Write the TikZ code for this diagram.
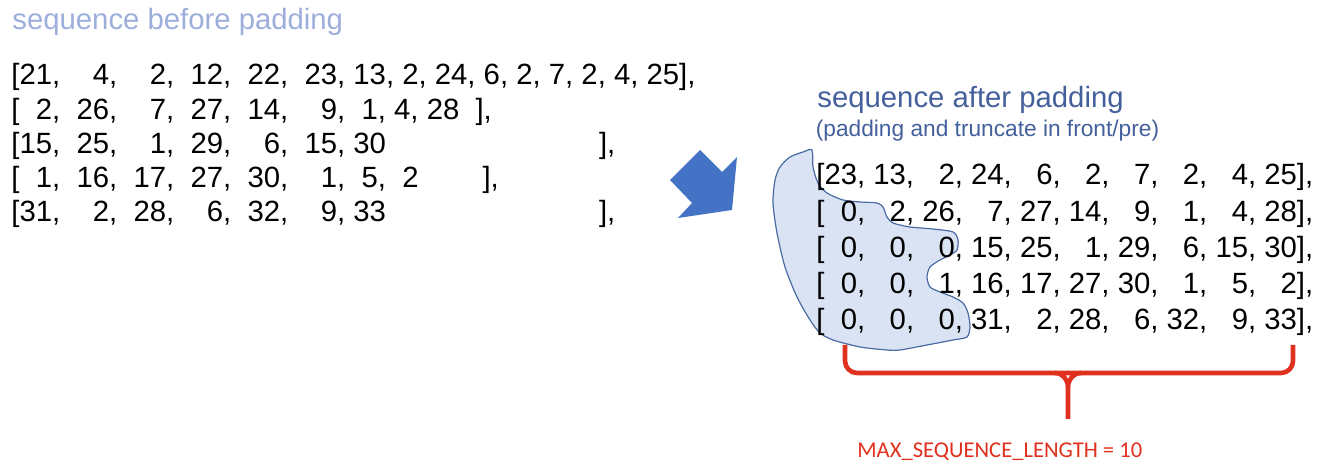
\documentclass[tikz,border=0pt]{standalone}
\usepackage{fontspec}
\setmainfont{Liberation Sans}
\newfontfamily\carlito{Carlito}
\definecolor{lightblue}{HTML}{9DAEDB}
\definecolor{darkblue}{HTML}{44609C}
\definecolor{arrowblue}{HTML}{4472C4}
\definecolor{blobfill}{HTML}{DAE3F3}
\definecolor{blobline}{HTML}{4A6AA3}
\definecolor{bracered}{HTML}{E0301E}
\newcommand{\pd}{\hphantom{0}}

\begin{document}
\begin{tikzpicture}[x=0.5pt, y=-0.5pt,
  txt/.style={anchor=base west, inner sep=0pt, font=\fontsize{14.65}{17}\selectfont},
  sub/.style={anchor=base west, inner sep=0pt, font=\fontsize{11.35}{13}\selectfont, text=darkblue},
  blob/.style={draw=blobline, fill=blobfill, line width=0.6pt},
  brc/.style={draw=bracered, line width=2.3pt},
  lbl/.style={anchor=base west, inner sep=0pt, font=\carlito\fontsize{11.3}{13}\selectfont, text=bracered}]
  \useasboundingbox (0,0) rectangle (1328,474);

  % before padding
  \node[txt, text=lightblue] (before) at (12,29.5) {sequence before padding};
  \foreach \seqtxt [count=\i] in {
    {[21,~~\pd4,~~\pd2,~~12,~~22,~~23, 13, 2, 24, 6, 2, 7, 2, 4, 25],},
    {[\pd2,~~26,~~\pd7,~~27,~~14,~~\pd9,~~1, 4, 28~~],},
    {[15,~~25,~~\pd1,~~29,~~\pd6,~~15, 30\hspace{106.5pt}],},
    {[\pd1,~~16,~~17,~~27,~~30,~~\pd1,~~5,~~2\hspace{32pt}],},
    {[31,~~\pd2,~~28,~~\pd6,~~32,~~\pd9, 33\hspace{106.5pt}],}}
    \node[txt] (b\i) at (11,{85+34.2*(\i-1)}) {\seqtxt};

  % arrow
  \fill[arrowblue] (670,180) -- (700,150) -- (722,172) -- (737,157) -- (732,210)
    -- (678,218) -- (692,203) -- cycle;

  % after padding
  \node[txt, text=darkblue] (after) at (817,107.5) {sequence after padding};
  \node[sub] (note) at (815.5,137) {(padding and truncate in front/pre)};
  \draw[blob] plot[smooth cycle, tension=0.45] coordinates {
    (812,150) (813,167) (818,183) (827,193) (843,200) (860,202) (877,203) (883,207)
    (887,217) (893,223) (910,227) (933,229) (953,232) (958,240) (957,250) (950,255)
    (940,260) (930,267) (927,277) (930,287) (940,292) (953,297) (963,303) (968,313)
    (970,327) (967,337) (953,340) (927,345) (900,350) (887,350) (860,347) (833,340)
    (820,333) (810,320) (797,297) (785,267) (777,233) (773,203) (775,180) (780,167)
    (790,157) (803,152)};
  \foreach \seqtxt [count=\i] in {
    {[23, 13, \pd2, 24, \pd6, \pd2, \pd7, \pd2, \pd4, 25],},
    {[\pd0, \pd2, 26, \pd7, 27, 14, \pd9, \pd1, \pd4, 28],},
    {[\pd0, \pd0, \pd0, 15, 25, \pd1, 29, \pd6, 15, 30],},
    {[\pd0, \pd0, \pd1, 16, 17, 27, 30, \pd1, \pd5, \pd2],},
    {[\pd0, \pd0, \pd0, 31, \pd2, 28, \pd6, 32, \pd9, 33],}}
    \node[txt] (a\i) at (816,{185+36.25*(\i-1)}) {\seqtxt};

  % brace
  \coordinate (bl) at (845,345);
  \coordinate (br) at (1293,345);
  \coordinate (bt) at (1068,419);
  \draw[brc, rounded corners=6] (bl) -- (845,373) -- (1293,373) -- (br);
  \draw[brc] (1055,373) to[out=0, in=90] (1068,387) -- (bt);
  \draw[brc] (1081,373) to[out=180, in=90] (1068,387);
  \node[lbl] (maxlen) at (857,458) {MAX\_SEQUENCE\_LENGTH = 10};
\end{tikzpicture}
\end{document}
